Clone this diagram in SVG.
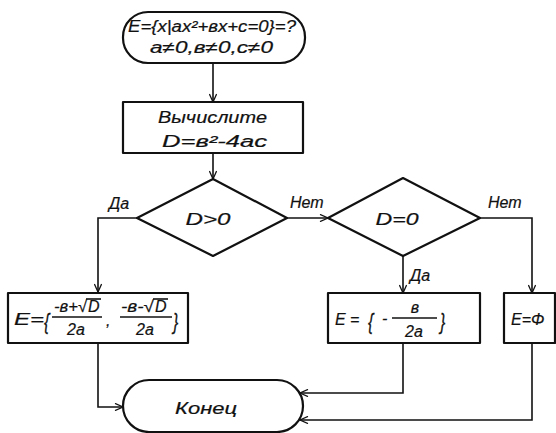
<svg xmlns="http://www.w3.org/2000/svg" width="556" height="433" viewBox="0 0 556 433">
<style>
.s{fill:none;stroke:#111;stroke-width:2.2;stroke-linejoin:round}
.c{fill:none;stroke:#111;stroke-width:1.6}
text{font-family:"Liberation Sans","DejaVu Sans",sans-serif;font-style:italic;fill:#111;stroke:#111;stroke-width:0.2;font-size:16px}
.m{text-anchor:middle}
</style>
<defs>
<marker id="a" viewBox="0 0 10 10" refX="10" refY="5" markerWidth="10" markerHeight="8" markerUnits="userSpaceOnUse" orient="auto">
<path d="M0,0.5 L10,5 L0,9.5" fill="none" stroke="#111" stroke-width="1.6"/>
</marker>
</defs>
<rect width="556" height="433" fill="#fff"/>
<g id="start">
<rect class="s" x="123" y="12" width="182" height="51" rx="25"/>
<text x="128" y="32" textLength="168" lengthAdjust="spacingAndGlyphs" font-size="18">E={x|ax²+вx+c=0}=?</text>
<text x="150" y="53" textLength="123" lengthAdjust="spacingAndGlyphs" font-size="19">a≠0,в≠0,c≠0</text>
</g>
<g id="compute">
<rect class="s" x="123" y="102" width="180" height="51"/>
<text x="158" y="123" textLength="109" lengthAdjust="spacingAndGlyphs" font-size="19">Вычислите</text>
<text x="162" y="147" textLength="105" lengthAdjust="spacingAndGlyphs" font-size="19">D=в²-4ac</text>
</g>
<g id="cond1">
<polygon class="s" points="213,179 287,218 213,256 137,218"/>
<text x="208" y="225" class="m" font-size="19" textLength="45" lengthAdjust="spacingAndGlyphs">D&gt;0</text>
</g>
<g id="cond2">
<polygon class="s" points="403,178 480,218 403,256 328,218"/>
<text x="397" y="225" class="m" font-size="19" textLength="43" lengthAdjust="spacingAndGlyphs">D=0</text>
</g>
<g id="two">
<rect class="s" x="8" y="293" width="180" height="50"/>
<text x="14" y="325" font-size="20" textLength="30" lengthAdjust="spacingAndGlyphs">E=</text>
<text transform="translate(44,329) scale(1,1.4)" font-size="22">{</text>
<text x="54" y="312" font-size="14" textLength="33" lengthAdjust="spacingAndGlyphs">-в+√</text>
<text x="88" y="312" font-size="14">D</text>
<line class="c" x1="86" y1="299" x2="101" y2="299" stroke-width="1.2"/>
<line class="c" x1="52" y1="317" x2="102" y2="317"/>
<text x="76" y="335" class="m" font-size="16">2a</text>
<text x="106" y="326" font-size="18">,</text>
<text x="121" y="312" font-size="14" textLength="33" lengthAdjust="spacingAndGlyphs">-в-√</text>
<text x="155" y="312" font-size="14">D</text>
<line class="c" x1="153" y1="299" x2="168" y2="299" stroke-width="1.2"/>
<line class="c" x1="120" y1="317" x2="172" y2="317"/>
<text x="145" y="335" class="m" font-size="16">2a</text>
<text transform="translate(173,329) scale(1,1.4)" font-size="22">}</text>
</g>
<g id="one">
<rect class="s" x="328" y="293" width="152" height="50"/>
<text x="335" y="325" font-size="20">E</text>
<text x="350" y="325" font-size="20">=</text>
<text transform="translate(368,329) scale(1,1.4)" font-size="22">{</text>
<text x="382" y="324" font-size="18">-</text>
<text x="415" y="313" class="m" font-size="16">в</text>
<line class="c" x1="392" y1="318" x2="437" y2="318"/>
<text x="414" y="337" class="m" font-size="16">2a</text>
<text transform="translate(440,329) scale(1,1.4)" font-size="22">}</text>
</g>
<g id="empty">
<rect class="s" x="504" y="293" width="51" height="50"/>
<text x="511" y="325" font-size="19">E=Φ</text>
</g>
<g id="end">
<rect class="s" x="123" y="380" width="180" height="52" rx="26"/>
<text x="206" y="414" class="m" font-size="19" textLength="62" lengthAdjust="spacingAndGlyphs">Конец</text>
</g>
<g id="connectors">
<path class="c" d="M213,63 V102" marker-end="url(#a)"/>
<path class="c" d="M213,153 V179" marker-end="url(#a)"/>
<path class="c" d="M137,218 H98 V292" marker-end="url(#a)"/>
<path class="c" d="M287,218 H328" marker-end="url(#a)"/>
<path class="c" d="M480,218 H532 V293" marker-end="url(#a)"/>
<path class="c" d="M403,256 V293" marker-end="url(#a)"/>
<path class="c" d="M98,343 V407 H123" marker-end="url(#a)"/>
<path class="c" d="M403,343 V393 H300" marker-end="url(#a)"/>
<path class="c" d="M532,343 V420 H300" marker-end="url(#a)"/>
<text x="109" y="209" font-size="17">Да</text>
<text x="290" y="208" font-size="17">Нет</text>
<text x="488" y="208" font-size="17">Нет</text>
<text x="410" y="281" font-size="17">Да</text>
</g>
</svg>
